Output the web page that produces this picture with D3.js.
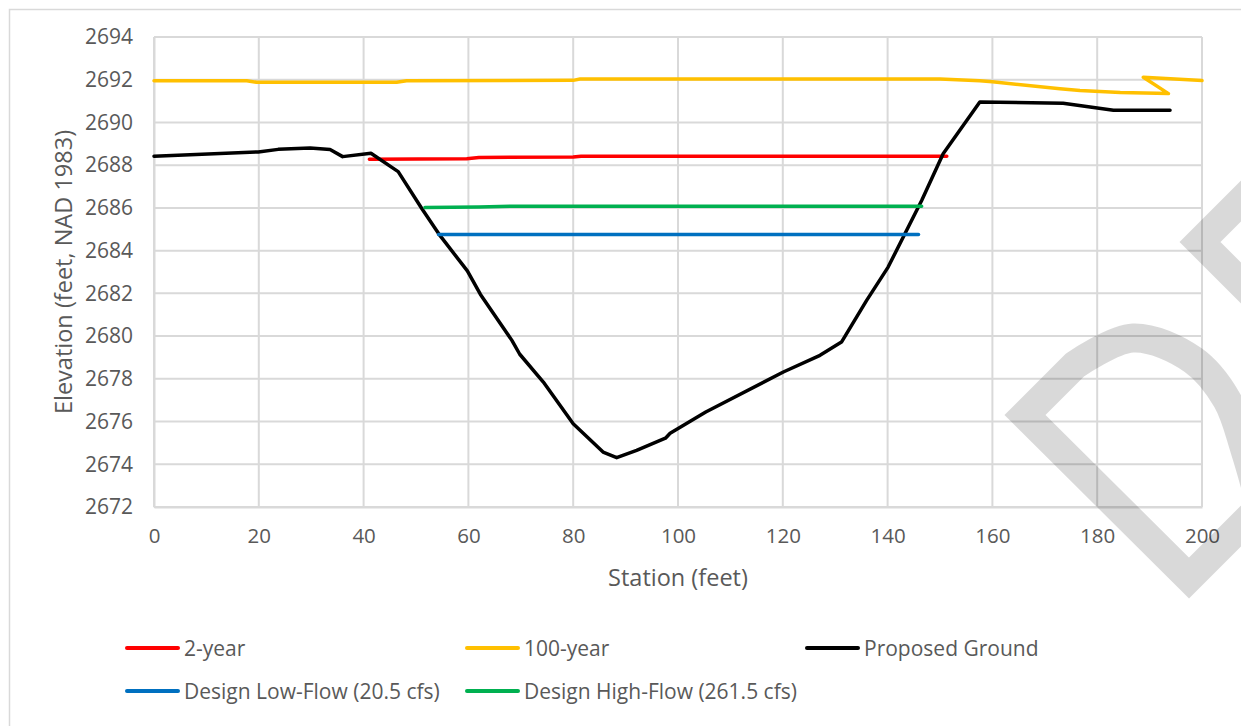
<!DOCTYPE html>
<html><head><meta charset="utf-8">
<script src="https://cdn.jsdelivr.net/npm/d3@7"></script>
<style>
html,body{margin:0;padding:0;background:#fff;}
svg text{font-family:"Open Sans",sans-serif;fill:#595959;}
</style></head>
<body>
<svg id="chart" width="1241" height="726"></svg>
<script>
// ---- data ----
const xTicks = [0,20,40,60,80,100,120,140,160,180,200];
const yTicks = [2672,2674,2676,2678,2680,2682,2684,2686,2688,2690,2692,2694];
const seriesNames = ["2-year","100-year","Proposed Ground","Design Low-Flow (20.5 cfs)","Design High-Flow (261.5 cfs)"];
const twoYear = [[41.1,2688.28],[59.7,2688.30],[62,2688.36],[80,2688.38],[81.5,2688.42],[151.3,2688.42]];
const hundredYear = [[0,2691.95],[17.7,2691.95],[19.6,2691.88],[46.3,2691.88],[48.2,2691.95],[80,2691.97],[81.3,2692.03],[150,2692.03],[157.6,2691.95],[160,2691.9],[172.9,2691.58],[176.7,2691.5],[184.4,2691.4],[191.4,2691.37],[193.6,2691.35],[188.8,2692.12],[200,2691.96]];
const ground = [[0,2688.42],[19.9,2688.62],[23.7,2688.74],[29.8,2688.80],[33.6,2688.73],[36.0,2688.40],[41.4,2688.56],[46.6,2687.70],[51.1,2685.97],[54.6,2684.70],[59.8,2683.05],[62.3,2681.95],[68.3,2679.80],[69.8,2679.15],[74.3,2677.85],[80.0,2675.90],[85.7,2674.57],[88.3,2674.31],[92.1,2674.65],[97.6,2675.22],[98.5,2675.45],[105.3,2676.45],[120.1,2678.32],[127.1,2679.10],[131.2,2679.72],[136.0,2681.67],[140.1,2683.23],[146.5,2686.35],[150.6,2688.54],[157.6,2690.96],[173.5,2690.90],[183.1,2690.57],[193.9,2690.57]];
const lowFlow = [[54.3,2684.75],[145.9,2684.75]];
const highFlow = [[51.7,2686.02],[62,2686.04],[68,2686.08],[146.5,2686.08]];

const seriesData = [twoYear, hundredYear, ground, lowFlow, highFlow];
const colors = ["#ff0000","#ffc000","#000000","#0070c0","#00b050"];

// ---- layout ----
const svg = d3.select("#chart");
const x = d3.scaleLinear().domain([0,200]).range([154,1202]);
const y = d3.scaleLinear().domain([2672,2694]).range([507,37]);

// chart border
svg.append("rect").attr("x",9.5).attr("y",9.5).attr("width",1260).attr("height",740)
  .attr("fill","none").attr("stroke","#d9d9d9").attr("stroke-width",1.5);

// gridlines
const grid = svg.append("g");
grid.selectAll(".vg").data(xTicks).join("line")
  .attr("x1",d=>x(d)).attr("x2",d=>x(d)).attr("y1",y(2694)).attr("y2",y(2672))
  .attr("stroke","#d9d9d9").attr("stroke-width",2);
grid.selectAll(".hg").data(yTicks).join("line")
  .attr("x1",x(0)).attr("x2",x(200)).attr("y1",d=>y(d)).attr("y2",d=>y(d))
  .attr("stroke","#d9d9d9").attr("stroke-width",2);

// axes (labels only)
const xAxis = d3.axisBottom(x).tickValues(xTicks).tickSize(0).tickPadding(21).tickFormat(d3.format("d"));
const gx = svg.append("g").attr("transform",`translate(0,${y(2672)})`).call(xAxis);
gx.select(".domain").attr("stroke","#d9d9d9").attr("stroke-width",2);
gx.selectAll("text").style("font-size","20.5px").attr("fill","#595959");

const yAxis = d3.axisLeft(y).tickValues(yTicks).tickSize(0).tickPadding(21).tickFormat(d3.format("d"));
const gy = svg.append("g").attr("transform",`translate(${x(0)},0)`).call(yAxis);
gy.select(".domain").attr("stroke","#d9d9d9").attr("stroke-width",2);
gy.selectAll("text").style("font-size","21px").attr("fill","#595959");

// axis titles
svg.append("text").attr("x",678).attr("y",586).attr("text-anchor","middle")
  .style("font-size","23.5px").text("Station (feet)");
svg.append("text").attr("transform","translate(72,272) rotate(-90)").attr("text-anchor","middle")
  .style("font-size","23.5px").text("Elevation (feet, NAD 1983)");

// series
const line = d3.line().x(d=>x(d[0])).y(d=>y(d[1]));
seriesData.forEach((s,i)=>{
  svg.append("path").datum(s).attr("d",line)
    .attr("fill","none").attr("stroke",colors[i]).attr("stroke-width",3.5)
    .attr("stroke-linejoin","round").attr("stroke-linecap","round");
});

// legend
const legendPos = [[127,648],[467,648],[807,648],[127,691],[467,691]];
seriesNames.forEach((n,i)=>{
  const [lx,ly] = legendPos[i];
  svg.append("line").attr("x1",lx).attr("x2",lx+51).attr("y1",ly).attr("y2",ly)
    .attr("stroke",colors[i]).attr("stroke-width",4).attr("stroke-linecap","round");
  svg.append("text").attr("x",lx+57).attr("y",ly+7.5).style("font-size","21px").text(n);
});

// watermark shapes (semi-transparent)
const wm = svg.append("g").attr("fill","none").attr("stroke","rgba(0,0,0,0.15)")
  .attr("stroke-width",29).attr("stroke-linejoin","miter").attr("stroke-miterlimit",10);
wm.append("path").attr("d","M1275,167 L1200,242 L1275,317");
const bowl = d3.line().curve(d3.curveCatmullRom.alpha(0.5));
wm.append("path").attr("d",
  "M1265,502 L1189,578 L1025,415 L1075,365 " +
  bowl([[1075,365],[1133,338],[1193,360],[1227,400],[1245,450],[1262,510]]).replace(/^M[\d.\-]+,[\d.\-]+/,""));
</script>
</body></html>
